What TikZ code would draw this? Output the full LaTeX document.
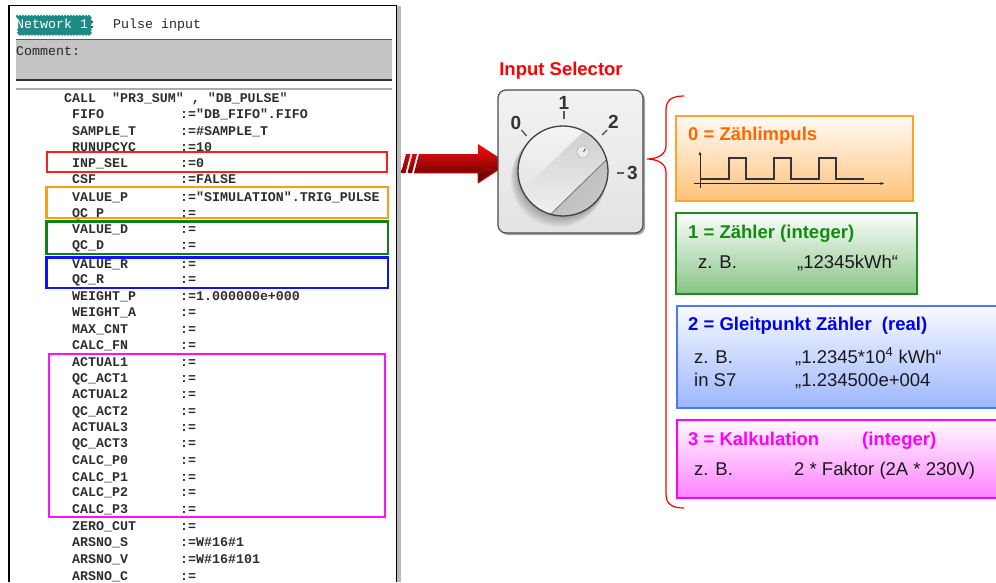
\documentclass[tikz,border=0pt]{standalone}
\usepackage{fontspec}
\setmainfont{Liberation Sans}
\newfontfamily\codefont{Liberation Mono}
\usetikzlibrary{decorations.pathmorphing,arrows.meta}

\definecolor{codegray}{HTML}{2E2E2E}
\definecolor{tealsel}{HTML}{1E8A84}
\definecolor{cmtgray}{HTML}{C4C4C4}
\definecolor{selred}{HTML}{FF1E1E}
\definecolor{selorange}{HTML}{FF9A1F}
\definecolor{selgreen}{HTML}{147F14}
\definecolor{selblue}{HTML}{0A14FF}
\definecolor{selmag}{HTML}{FF10FF}
\definecolor{orTitle}{HTML}{FF6600}
\definecolor{orBorder}{HTML}{FFA22E}
\definecolor{orFill}{HTML}{FFC27A}
\definecolor{grTitle}{HTML}{138A13}
\definecolor{grBorder}{HTML}{1E8C1E}
\definecolor{grFill}{HTML}{86C486}
\definecolor{blTitle}{HTML}{0000E8}
\definecolor{blBorder}{HTML}{4B78FF}
\definecolor{blFill}{HTML}{9CB6FF}
\definecolor{mgTitle}{HTML}{FF00FF}
\definecolor{mgBorder}{HTML}{FF00FF}
\definecolor{mgFill}{HTML}{FF82FF}

\tikzset{
  codetxt/.style={font=\codefont\bfseries\fontsize{13.3}{15}\selectfont, text=codegray, anchor=base west, inner sep=0pt},
  hdrtxt/.style={font=\codefont\fontsize{13.3}{15}\selectfont, text=black!85, anchor=base west, inner sep=0pt},
  markbox/.style={line width=2.5pt},
  modebox/.style={line width=2pt, anchor=north west, inner sep=0pt},
  boxtitle/.style={font=\bfseries\fontsize{18.5}{22}\selectfont, anchor=base west, inner sep=0pt},
  boxbody/.style={font=\fontsize{18.5}{22}\selectfont, text=black!90, anchor=base west, inner sep=0pt},
  dialnum/.style={font=\bfseries\fontsize{19}{22}\selectfont, text=black!80, inner sep=0pt},
  dialtick/.style={draw=black!65, line width=1.4pt},
}

\begin{document}
\begin{tikzpicture}[x=1pt,y=-1pt]
\useasboundingbox (0,0) rectangle (996,582);
\clip (0,0) rectangle (996,582);

% ---------------- program listing panel ----------------
\fill[gray!55] (397,6) rectangle (400.5,582);
\draw[black, line width=1.3pt] (9,582) -- (9,5.5) -- (396.5,5.5) -- (396.5,582);

% network title with selection highlight
\fill[tealsel, decorate, decoration={snake, segment length=3pt, amplitude=0.8pt}]
  (16,15.5) -- (89,15.5) -- (89,33.5) -- (16,33.5) -- cycle;
\node[hdrtxt, text=white] (nettitle) at (16,28.5) {Network 1};
\node[hdrtxt] (netcolon) at (88,28.5) {:};
\node[hdrtxt] (netname) at (113,28.5) {Pulse input};

% comment field
\fill[cmtgray] (16,40) rectangle (392,80);
\draw[gray!70!black, line width=0.8pt] (16,39.5) -- (392,39.5);
\draw[gray!40!black, line width=1.2pt] (16,80) -- (392,80);
\draw[gray!65, line width=2pt] (16,88.5) -- (392,88.5);
\node[hdrtxt] (cmt) at (16,55) {Comment:};

% call and parameter list
\node[codetxt] (callline) at (64,102.5) {CALL\ \ "PR3\_SUM"\ ,\ "DB\_PULSE"};
\foreach \yy/\kk/\vv [count=\n] in {
  114/FIFO/{:="DB\_FIFO".FIFO},
  131/SAMPLE\_T/{:=\#SAMPLE\_T},
  147/RUNUPCYC/{:=10},
  163/INP\_SEL/{:=0},
  179/CSF/{:=FALSE},
  197/VALUE\_P/{:="SIMULATION".TRIG\_PULSE},
  213/QC\_P/{:=},
  229/VALUE\_D/{:=},
  245/QC\_D/{:=},
  264/VALUE\_R/{:=},
  279/QC\_R/{:=},
  296/WEIGHT\_P/{:=1.000000e+000},
  312/WEIGHT\_A/{:=},
  329/MAX\_CNT/{:=},
  345/CALC\_FN/{:=},
  362/ACTUAL1/{:=},
  378/QC\_ACT1/{:=},
  394/ACTUAL2/{:=},
  411/QC\_ACT2/{:=},
  427/ACTUAL3/{:=},
  443/QC\_ACT3/{:=},
  460/CALC\_P0/{:=},
  477/CALC\_P1/{:=},
  492/CALC\_P2/{:=},
  509/CALC\_P3/{:=},
  526/ZERO\_CUT/{:=},
  542/ARSNO\_S/{:=W\#16\#1},
  559/ARSNO\_V/{:=W\#16\#101},
  576/ARSNO\_C/{:=}}
{
  \node[codetxt] (par\n) at (72,\yy+4.5) {\kk};
  \node[codetxt] (val\n) at (180,\yy+4.5) {\vv};
}

% parameter groups
\draw[markbox, selred]    (47,152) rectangle (387,172);
\draw[markbox, selorange] (46.5,187) rectangle (388,218);
\draw[markbox, selgreen]  (46.5,221.5) rectangle (388,254);
\draw[markbox, selblue]   (46.5,257.5) rectangle (388,288);
\draw[markbox, selmag]    (49,354) rectangle (385,517);

% ---------------- pointer arrow ----------------
\shade[left color=red!95!white, right color=red!30!black, shading angle=0]
  (401,173) -- (406,154) -- (410.5,154) -- (405.5,173) -- cycle
  (407.5,173) -- (412.5,154) -- (417,154) -- (412,173) -- cycle
  (414,173) -- (419,154) -- (478,154) -- (478,144) -- (508,163.5)
            -- (478,183) -- (478,173) -- cycle;
\draw[red, line width=0.8pt] (508,163.5) -- (478,183) -- (478,173) -- (414,173);
\coordinate (arrowtip) at (508,163.5);

% ---------------- input selector ----------------
\node[font=\bfseries\fontsize{18.5}{22}\selectfont, text=red, inner sep=0pt]
  (seltitle) at (561,71) {Input Selector};

\fill[gray!70, rounded corners=8pt] (500,92) rectangle (645,235);
\shade[top color=gray!10, bottom color=gray!22, draw=black!70, line width=1.2pt,
  rounded corners=8pt] (498,90) rectangle (643,233);
\node[inner sep=0pt, minimum size=1pt] (selector) at (570.5,161.5) {};

% dial ticks and numbers
\draw[dialtick] (521.5,130) -- (526.5,136);
\draw[dialtick] (564,111) -- (564,119);
\draw[dialtick] (602,135) -- (607,130);
\draw[dialtick] (617,173) -- (624,173);
\node[dialnum] (pos0) at (516,123) {0};
\node[dialnum] (pos1) at (564,103) {1};
\node[dialnum] (pos2) at (613.5,122) {2};
\node[dialnum] (pos3) at (632.5,173) {3};

% soft knob shadow towards the lower left
\foreach \k in {1,...,6}
  \fill[black, opacity=0.05] (563-0.8*\k,171+1.4*\k) circle (45+0.4*\k);

% knob
\begin{scope}
  \clip (563,171) circle (45);
  \shade[top color=gray!8, bottom color=gray!26] (517,125) rectangle (609,217);
  % ridge top face
  \shade[left color=gray!45, right color=gray!2, shading angle=0]
    (494,218) -- (609,107) -- (637,130) -- (519,245) -- cycle;
  % ridge side face
  \shade[top color=gray!60, bottom color=gray!20, shading angle=45]
    (519,245) -- (637,130) -- (690,180) -- (565,300) -- cycle;
  \draw[gray!45!black, line width=0.8pt, opacity=0.6] (519,245) -- (637,130);
\end{scope}
\draw[black!75, line width=1.3pt] (563,171) circle (45);
\draw[gray!55, fill=gray!15, line width=0.6pt] (583,152) circle (6);
\draw[gray!60!black, line width=0.8pt] (583.5,152) -- (585.5,148.5);

% ---------------- brace ----------------
\draw[red, line width=1.2pt]
  (684,96) .. controls (672,96) and (666,100) .. (666,110) -- (666,146)
  .. controls (666,154) and (658,159) .. (647,159)
  .. controls (658,159) and (666,164) .. (666,172) -- (666,494)
  .. controls (666,504) and (672,508) .. (684,508);
\coordinate (bracetip) at (647,159);

% ---------------- mode boxes ----------------
\node[modebox, draw=orBorder, top color=white!92!orFill, bottom color=orFill,
  minimum width=237pt, minimum height=85pt] (mode0) at (675,115) {};
\node[boxtitle, text=orTitle] (mode0title) at (688,140) {0 = Zählimpuls};
\draw[black!85, line width=1pt, -{Latex[length=4pt,width=3pt]}] (700,187.5) -- (700,151);
\draw[black!85, line width=1pt, -{Latex[length=4.5pt,width=3pt]}] (694,183.5) -- (885,183.5);
\draw[black!80, line width=1.1pt]
  (700,179) -- (729,179) -- (729,158) -- (746,158) -- (746,179) -- (774,179)
  -- (774,158) -- (791,158) -- (791,179) -- (819,179) -- (819,158) -- (836,158)
  -- (836,179) -- (864,179);

\node[modebox, draw=grBorder, top color=white!97!grFill, bottom color=grFill,
  minimum width=241pt, minimum height=81pt] (mode1) at (675,212) {};
\node[boxtitle, text=grTitle] (mode1title) at (688,238) {1 = Zähler (integer)};
\node[boxbody] (mode1eg) at (698,268) {z. B.};
\node[boxbody] (mode1val) at (797,268) {„12345kWh“};

\node[modebox, draw=blBorder, top color=white!93!blFill, bottom color=blFill,
  minimum width=330pt, minimum height=102pt] (mode2) at (676,305) {};
\node[boxtitle, text=blTitle] (mode2title) at (688,330) {2 = Gleitpunkt Zähler\ \ (real)};
\node[boxbody] (mode2eg) at (694,363) {z. B.};
\node[boxbody] (mode2val) at (795,363) {„1.2345*10\textsuperscript{4} kWh“};
\node[boxbody] (mode2s7) at (694,386) {in S7};
\node[boxbody] (mode2s7val) at (795,386) {„1.234500e+004};

\node[modebox, draw=mgBorder, top color=white!96!mgFill, bottom color=mgFill,
  minimum width=330pt, minimum height=78pt] (mode3) at (676,419) {};
\node[boxtitle, text=mgTitle] (mode3title) at (688,445) {3 = Kalkulation};
\node[boxtitle, text=mgTitle] (mode3type) at (862,445) {(integer)};
\node[boxbody] (mode3eg) at (694,475) {z. B.};
\node[boxbody] (mode3val) at (794,475) {2 * Faktor (2A * 230V)};

\end{tikzpicture}
\end{document}
